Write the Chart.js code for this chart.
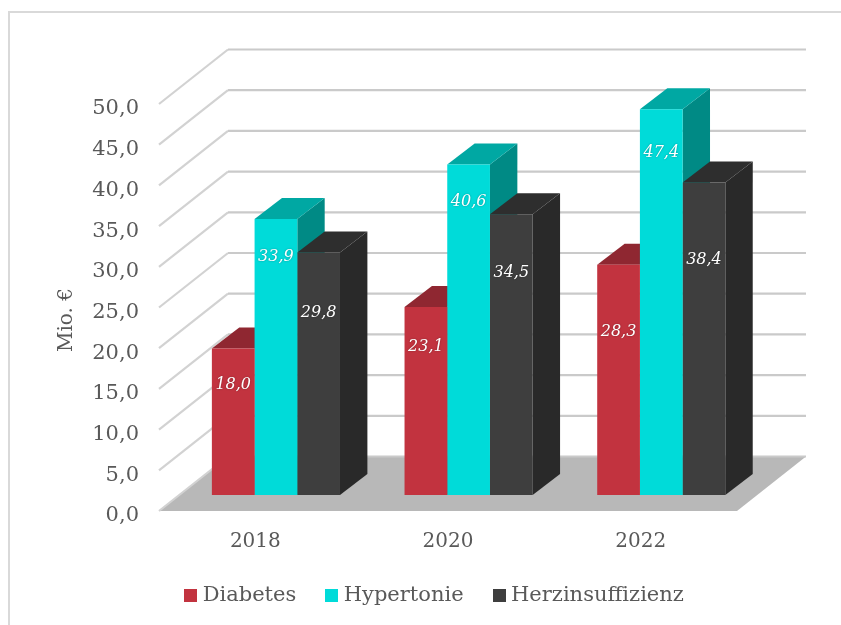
<!DOCTYPE html>
<html>
<head>
<meta charset="utf-8">
<title>Mio. €</title>
<script src="https://cdn.jsdelivr.net/npm/chart.js@4"></script>
<style>
  html, body { margin: 0; background: #fff; }
  #frame { position: absolute; left: 8px; top: 11px; right: 0; bottom: 0; border-left: 2px solid #d9d9d9; border-top: 2px solid #d9d9d9; }
  #box { position: absolute; left: 0; top: 0; width: 841px; height: 625px; }
</style>
</head>
<body>
<div id="frame"></div>
<div id="box"><canvas id="c" width="841" height="625"></canvas></div>
<script>
const years = ["2018", "2020", "2022"];
const diabetes = [18.0, 23.1, 28.3];
const hypertonie = [33.9, 40.6, 47.4];
const herz = [29.8, 34.5, 38.4];

const FONT = "'DejaVu Serif', serif";
const TEXT = "#595959";

// the picture is a fake 3D view: wall depth and bar depth in px
const WALL = { dx: 69, dy: -54.5 };
const BAR = { dx: 27.4, dy: -21 };
const SHIFT = { x: 20.6, y: -16 };
// hand placed labels, px below the bar top
const labelDrop = [[36, 40, 67], [38, 37, 44], [60, 59, 77]];

const fmt = (v) => Number(v).toFixed(1).replace(".", ",");

// 13px legend square; drawn as an image so the gap to the text stays small
function legendSquare(color) {
  const c = document.createElement("canvas");
  c.width = 13;
  c.height = 13;
  const g = c.getContext("2d");
  g.fillStyle = color;
  g.fillRect(0, 0, 13, 13);
  return c;
}

const fake3d = {
  id: "fake3d",
  beforeDatasetsDraw(chart) {
    const { ctx, chartArea, scales } = chart;
    const { left, right } = chartArea;
    const y0 = scales.y.getPixelForValue(0);
    ctx.save();
    // floor
    ctx.fillStyle = "#b8b8b8";
    ctx.beginPath();
    ctx.moveTo(left, y0);
    ctx.lineTo(right, y0);
    ctx.lineTo(right + WALL.dx, y0 + WALL.dy);
    ctx.lineTo(left + WALL.dx, y0 + WALL.dy);
    ctx.closePath();
    ctx.fill();
    // grid lines, side wall then back wall
    ctx.lineWidth = 2.2;
    ctx.lineJoin = "round";
    scales.y.ticks.forEach((t) => {
      const y = scales.y.getPixelForValue(t.value);
      ctx.strokeStyle = "#d2d2d2";
      ctx.beginPath();
      ctx.moveTo(left, y);
      ctx.lineTo(left + WALL.dx, y + WALL.dy);
      ctx.stroke();
      ctx.strokeStyle = "#cacaca";
      ctx.beginPath();
      ctx.moveTo(left + WALL.dx, y + WALL.dy);
      ctx.lineTo(right + WALL.dx, y + WALL.dy);
      ctx.stroke();
    });
    // side and top faces, left to right; the fronts come later and cover them
    ctx.translate(SHIFT.x, SHIFT.y);
    chart.data.datasets.forEach((ds, i) => {
      chart.getDatasetMeta(i).data.forEach((bar) => {
        const l = bar.x - bar.width / 2;
        const r = bar.x + bar.width / 2;
        ctx.fillStyle = ds.sideColor;
        ctx.beginPath();
        ctx.moveTo(r, bar.base);
        ctx.lineTo(r + BAR.dx, bar.base + BAR.dy);
        ctx.lineTo(r + BAR.dx, bar.y + BAR.dy);
        ctx.lineTo(r, bar.y);
        ctx.closePath();
        ctx.fill();
        ctx.fillStyle = ds.topColor;
        ctx.beginPath();
        ctx.moveTo(l, bar.y);
        ctx.lineTo(r, bar.y);
        ctx.lineTo(r + BAR.dx, bar.y + BAR.dy);
        ctx.lineTo(l + BAR.dx, bar.y + BAR.dy);
        ctx.closePath();
        ctx.fill();
      });
    });
    ctx.restore();
  },
  beforeDatasetDraw(chart) {
    chart.ctx.save();
    chart.ctx.translate(SHIFT.x, SHIFT.y);
  },
  afterDatasetDraw(chart) {
    chart.ctx.restore();
  },
  afterDatasetsDraw(chart) {
    const { ctx } = chart;
    ctx.save();
    ctx.font = "italic 16px " + FONT;
    ctx.textAlign = "center";
    ctx.textBaseline = "middle";
    ctx.fillStyle = "#fff";
    ctx.shadowColor = "rgba(0,0,0,0.35)";
    ctx.shadowBlur = 2;
    chart.data.datasets.forEach((ds, i) => {
      chart.getDatasetMeta(i).data.forEach((bar, j) => {
        ctx.fillText(fmt(ds.data[j]), bar.x + SHIFT.x, bar.y + SHIFT.y + labelDrop[i][j]);
      });
    });
    ctx.restore();
  },
  afterDraw(chart) {
    // axis title sits lower than the scale's own title would
    const { ctx } = chart;
    ctx.save();
    ctx.translate(67, 320);
    ctx.rotate(-Math.PI / 2);
    ctx.font = "20px " + FONT;
    ctx.fillStyle = TEXT;
    ctx.textAlign = "center";
    ctx.textBaseline = "middle";
    ctx.fillText("Mio. €", 0, 0);
    ctx.restore();
  },
  afterLayout(chart) {
    // legend sits off centre in the original
    chart.legend.left += 42;
    chart.legend.right += 42;
    chart.legend.top -= 9;
    chart.legend.bottom -= 9;
  },
};

new Chart(document.getElementById("c"), {
  type: "bar",
  data: {
    labels: years,
    datasets: [
      { label: "Diabetes", data: diabetes, backgroundColor: "#c2333f", topColor: "#8f2731", sideColor: "#8f2731", clip: false },
      { label: "Hypertonie", data: hypertonie, backgroundColor: "#00dbd9", topColor: "#00a8a3", sideColor: "#008a85", clip: false },
      { label: "Herzinsuffizienz", data: herz, backgroundColor: "#3e3e3e", topColor: "#2e2e2e", sideColor: "#292929", clip: false },
    ],
  },
  options: {
    responsive: false,
    animation: false,
    layout: { padding: { left: 52, right: 104, top: 104, bottom: 0 } },
    datasets: { bar: { barPercentage: 1, categoryPercentage: 0.665 } },
    scales: {
      x: {
        grid: { display: false },
        border: { display: false },
        ticks: { color: TEXT, font: { family: FONT, size: 20 }, padding: 11 },
        afterFit(scale) { scale.height = 49; },
      },
      y: {
        min: 0,
        max: 50,
        grid: { display: false },
        border: { display: false },
        ticks: { stepSize: 5, color: TEXT, font: { family: FONT, size: 21 }, padding: 12, labelOffset: 5, callback: fmt },
        afterFit(scale) { scale.width = 107; },
      },
    },
    plugins: {
      tooltip: { enabled: false },
      legend: {
        position: "bottom",
        labels: {
          color: TEXT,
          font: { family: FONT, size: 21 },
          usePointStyle: true,
          pointStyleWidth: 3,
          boxHeight: 13,
          padding: 34,
          generateLabels(chart) {
            return Chart.defaults.plugins.legend.labels.generateLabels(chart).map((item) => {
              item.pointStyle = legendSquare(chart.data.datasets[item.datasetIndex].backgroundColor);
              return item;
            });
          },
        },
      },
    },
  },
  plugins: [fake3d],
});
</script>
</body>
</html>
